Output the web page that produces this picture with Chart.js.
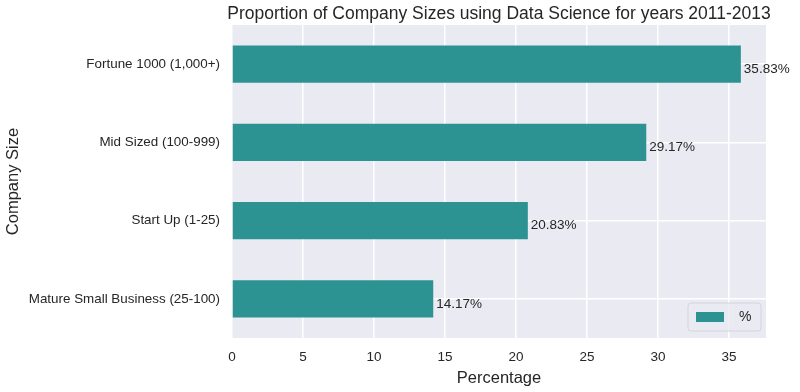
<!DOCTYPE html>
<html>
<head>
<meta charset="utf-8">
<script src="https://cdn.jsdelivr.net/npm/chart.js@4.4.1/dist/chart.umd.min.js"></script>
<style>
  html, body { margin: 0; padding: 0; background: #fff; }
  #wrap { width: 800px; height: 392px; }
</style>
</head>
<body>
<div id="wrap"><canvas id="myChart" width="800" height="392"></canvas></div>
<script>
const categories = ['Fortune 1000 (1,000+)', 'Mid Sized (100-999)', 'Start Up (1-25)', 'Mature Small Business (25-100)'];
const percentValues = [35.83, 29.17, 20.83, 14.17];
const xTicks = [0, 5, 10, 15, 20, 25, 30, 35];
const chartTitle = 'Proportion of Company Sizes using Data Science for years 2011-2013';

const barColor = '#2d9292';
const textColor = '#262626';
const font = "'Liberation Sans', Arial, sans-serif";

// grey seaborn-like plot background
const bgPlugin = {
    id: 'bg',
    beforeDraw(chart) {
        const a = chart.chartArea, c = chart.ctx;
        c.save();
        c.fillStyle = '#eaeaf2';
        c.fillRect(a.left, a.top, a.right - a.left, a.bottom - a.top);
        c.restore();
    }
};

// title centred over the plot area (like matplotlib), not the whole canvas
const titlePlugin = {
    id: 'plotTitle',
    afterDraw(chart) {
        const a = chart.chartArea, c = chart.ctx;
        c.save();
        c.fillStyle = textColor;
        c.font = '17.5px ' + font;
        c.textAlign = 'center';
        c.textBaseline = 'middle';
        c.fillText(chartTitle, (a.left + a.right) / 2, 14);
        c.restore();
    }
};

// value labels at bar ends
const labelPlugin = {
    id: 'vals',
    afterDatasetsDraw(chart) {
        const c = chart.ctx;
        const meta = chart.getDatasetMeta(0);
        c.save();
        c.fillStyle = textColor;
        c.font = '13.5px ' + font;
        c.textBaseline = 'middle';
        meta.data.forEach(function (bar, i) {
            c.fillText(percentValues[i].toFixed(2) + '%', bar.x + 3, bar.y + 5);
        });
        c.restore();
    }
};

// legend box inside plot, lower right
const legendPlugin = {
    id: 'boxLegend',
    afterDraw(chart) {
        const a = chart.chartArea, c = chart.ctx;
        const w = 73, h = 28;
        const x = a.right - w - 5, y = a.bottom - h - 7;
        c.save();
        c.fillStyle = 'rgba(234,234,242,0.85)';
        c.strokeStyle = '#d4d4dc';
        c.lineWidth = 1;
        c.beginPath();
        c.roundRect(x, y, w, h, 3);
        c.fill();
        c.stroke();
        c.fillStyle = barColor;
        c.fillRect(x + 8, y + 9, 28, 10);
        c.fillStyle = textColor;
        c.font = '14px ' + font;
        c.textBaseline = 'middle';
        c.fillText('%', x + 51, y + 14);
        c.restore();
    }
};

new Chart(document.getElementById('myChart'), {
    type: 'bar',
    data: {
        labels: categories,
        datasets: [{
            label: '%',
            data: percentValues,
            backgroundColor: barColor,
            borderWidth: 0,
            barPercentage: 0.475,
            categoryPercentage: 1
        }]
    },
    plugins: [bgPlugin, labelPlugin, legendPlugin, titlePlugin],
    options: {
        indexAxis: 'y',
        responsive: false,
        animation: false,
        layout: { padding: { left: 0, right: 34, top: 25, bottom: 0 } },
        plugins: {
            legend: { display: false },
            tooltip: { enabled: false },
            title: { display: false }
        },
        scales: {
            x: {
                min: 0,
                max: 37.6,
                afterBuildTicks: function (scale) {
                    scale.ticks = xTicks.map(function (v) { return { value: v }; });
                },
                afterFit: function (scale) { scale.height = 54; },
                grid: { color: '#ffffff', lineWidth: 1.5, drawTicks: false },
                border: { display: false },
                ticks: {
                    color: textColor,
                    padding: 11,
                    font: { family: font, size: 13.5 }
                },
                title: {
                    display: true,
                    text: 'Percentage',
                    color: textColor,
                    font: { family: font, size: 16.5 },
                    padding: { top: 2 }
                }
            },
            y: {
                afterFit: function (scale) { scale.width = 232; },
                grid: { color: '#ffffff', lineWidth: 1.5, drawTicks: false, offset: false },
                border: { display: false },
                ticks: {
                    color: textColor,
                    padding: 12,
                    font: { family: font, size: 13.4 }
                },
                title: {
                    display: true,
                    text: 'Company Size',
                    color: textColor,
                    font: { family: font, size: 16.5 },
                    padding: { bottom: 0 }
                }
            }
        }
    }
});
</script>
</body>
</html>
